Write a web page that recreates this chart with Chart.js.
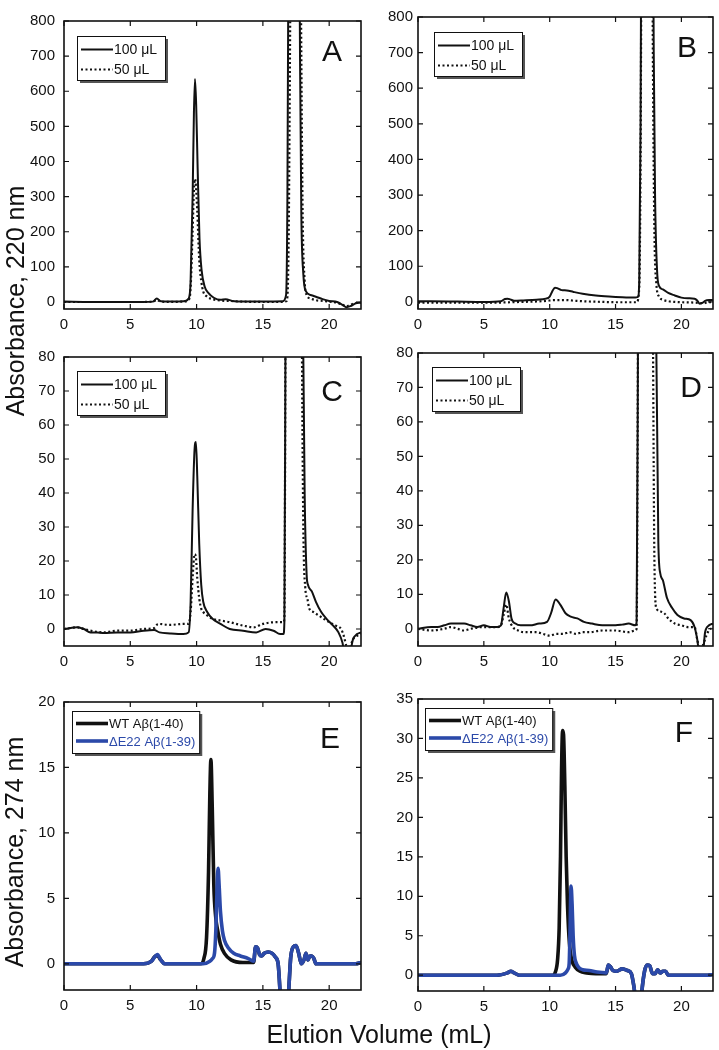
<!DOCTYPE html>
<html>
<head>
<meta charset="utf-8">
<script src="https://cdn.jsdelivr.net/npm/chart.js@4.4.1/dist/chart.umd.min.js"></script>
<style>
  body { margin: 0; background: #fff; }
  #wrap { position: relative; width: 719px; height: 1050px; overflow: hidden; font-family: "Liberation Sans", Arial, sans-serif; color: #111; }
  #wrap canvas { position: absolute; }
  .ttl { position: absolute; font-size: 25px; line-height: 30px; height: 30px; text-align: center; white-space: nowrap; }
  .rot { transform: rotate(-90deg); transform-origin: 50% 50%; }
</style>
</head>
<body>
<div id="wrap">
  <canvas id="cA"></canvas>
  <canvas id="cB"></canvas>
  <canvas id="cC"></canvas>
  <canvas id="cD"></canvas>
  <canvas id="cE"></canvas>
  <canvas id="cF"></canvas>
  <div class="ttl rot" style="left:-135px; top:286px; width:300px;">Absorbance, 220 nm</div>
  <div class="ttl rot" style="left:-136px; top:837px; width:300px;">Absorbance, 274 nm</div>
  <div class="ttl" style="left:229px; top:1019px; width:300px;">Elution Volume (mL)</div>
</div>
<script>
// ---- data (elution volume in mL, absorbance) ----
const xTicks = [0, 5, 10, 15, 20];
const yTicks800 = [0, 100, 200, 300, 400, 500, 600, 700, 800];
const yTicks80 = [0, 10, 20, 30, 40, 50, 60, 70, 80];
const yTicks20 = [0, 5, 10, 15, 20];
const yTicks35 = [0, 5, 10, 15, 20, 25, 30, 35];

// panel A
const a100X = [0, 2, 4, 6, 6.7, 7.0, 7.3, 8, 9, 9.4, 9.55, 9.7, 9.8, 9.88, 9.97, 10.08, 10.22, 10.38, 10.6, 10.9, 11.3, 11.8, 12.2, 12.7, 13.5, 15, 16.5, 16.75, 16.85, 16.95, 17.1, 17.5, 17.7, 17.8, 17.9, 18.05, 18.25, 18.6, 19.0, 19.5, 20.0, 20.6, 21.0, 21.3, 21.6, 22.0, 22.4];
const a100Y = [1, 0, 0, 0, 1, 10, 2, 1, 2, 10, 60, 300, 540, 635, 560, 380, 180, 90, 45, 25, 12, 6, 8, 3, 1, 1, 2, 20, 300, 1200, 2000, 2000, 1400, 700, 250, 80, 30, 20, 15, 8, 3, 0, -8, -15, -12, -4, -2];
const a50X = [0, 2, 4, 6, 6.7, 7.0, 7.3, 8, 9, 9.4, 9.55, 9.7, 9.8, 9.88, 9.95, 10.05, 10.2, 10.35, 10.5, 10.8, 11.2, 11.8, 12.5, 13.5, 15, 16.5, 16.75, 16.85, 16.95, 17.1, 17.5, 17.7, 17.8, 17.9, 18.0, 18.15, 18.3, 18.6, 19.0, 19.5, 20.0, 20.6, 21.0, 21.3, 21.6, 22.0, 22.4];
const a50Y = [0, 0, 0, 0, 1, 6, 1, 0, 1, 6, 40, 200, 320, 350, 330, 260, 120, 60, 30, 15, 8, 4, 3, 1, 0, 0, 2, 15, 200, 1000, 2000, 2000, 1300, 700, 250, 60, 20, 10, 5, 3, 1, -2, -8, -12, -8, -3, -2];

// panel B
const b100X = [0, 1, 3, 5, 6.3, 6.6, 6.8, 7.0, 7.3, 8, 9, 9.7, 10.0, 10.2, 10.4, 10.6, 10.9, 11.3, 11.8, 12.5, 13.5, 14.5, 15.5, 16.5, 16.7, 16.8, 16.9, 17.0, 17.2, 17.6, 17.8, 17.9, 18.0, 18.15, 18.3, 18.6, 19.0, 19.5, 20.0, 20.5, 21.0, 21.2, 21.4, 21.6, 21.8, 22.1, 22.4];
const b100Y = [2, 2, 1, 0, 2, 8, 9, 7, 3, 4, 6, 9, 15, 30, 40, 38, 33, 32, 28, 23, 18, 15, 13, 12, 14, 60, 500, 1500, 2000, 2000, 1400, 700, 300, 90, 45, 35, 25, 18, 12, 10, 9, 4, -5, -3, 3, 5, 5];
const b50X = [0, 2, 4, 6, 7, 8, 9, 9.8, 10.3, 10.7, 11.2, 12, 13, 14, 15, 16.6, 16.8, 16.9, 17.0, 17.2, 17.6, 17.75, 17.85, 17.95, 18.1, 18.3, 18.6, 19.0, 19.5, 20.0, 21.0, 21.4, 21.7, 22.0, 22.4];
const b50Y = [-2, -2, -2, -2, -1, 0, 1, 3, 5, 5, 5, 3, 1, 0, -1, -1, 40, 400, 1300, 2000, 2000, 1300, 600, 200, 50, 15, 6, 2, 0, -1, -2, -3, -4, -1, -1];

// panel C
const c100X = [0, 0.5, 1.0, 1.5, 2, 2.5, 3, 4, 5, 6, 6.8, 7.2, 8, 9, 9.4, 9.55, 9.7, 9.85, 9.95, 10.05, 10.2, 10.35, 10.5, 10.8, 11.2, 11.8, 12.5, 13.5, 14.5, 15.2, 15.8, 16.3, 16.55, 16.62, 16.7, 16.8, 17.3, 17.9, 18.05, 18.15, 18.3, 18.4, 18.7, 19.0, 19.4, 19.8, 20.3, 20.7, 21.0, 21.2, 21.5, 21.8, 22.1, 22.4];
const c100Y = [0, 0.3, 0.5, 0, -1, -1, -1.2, -1, -1, -0.5, -0.3, -1, -1.3, -1.5, -1, 8, 35, 53, 55, 45, 25, 13, 8, 5, 3, 1.5, 0, -0.5, -1, 0, -0.5, -1.5, -1.5, 2, 80, 200, 200, 200, 80, 40, 16, 13, 11, 8, 5, 3, 1, -1, -4, -8, -8, -3, -1.5, -1];
const c50X = [0, 0.5, 1.0, 1.5, 2, 3, 4, 5, 6, 6.8, 7.1, 8, 9, 9.4, 9.55, 9.7, 9.85, 9.95, 10.05, 10.2, 10.35, 10.5, 10.8, 11.2, 11.8, 12.5, 13.5, 14.3, 15, 16, 16.55, 16.62, 16.7, 16.8, 17.3, 17.8, 17.95, 18.05, 18.2, 18.35, 18.5, 18.8, 19.2, 19.6, 20.0, 20.5, 20.9, 21.1, 21.3, 21.5, 21.8, 22.1, 22.4];
const c50Y = [0, 0.3, 0.5, 0, -0.5, -1, -0.5, -0.5, 0, 0.3, 1.5, 1.2, 1.5, 1.5, 5, 15, 22, 21, 15, 9, 6, 5, 4, 3, 2.5, 2, 1, 0.5, 1.5, 2, 2, 3, 80, 200, 200, 200, 80, 30, 12, 9, 6, 5, 4, 3, 2, 1, 0, -2, -5, -6, -3, -2, -1.5];

// panel D
const d100X = [0, 1, 1.5, 2, 2.5, 3, 3.5, 4, 4.5, 5, 5.5, 6, 6.3, 6.5, 6.7, 6.9, 7.1, 7.4, 7.8, 8.5, 9.2, 9.8, 10.1, 10.45, 10.8, 11.2, 11.6, 12.1, 12.6, 13.2, 14, 14.5, 15, 15.5, 16, 16.5, 16.6, 16.7, 16.8, 17.3, 17.9, 18.1, 18.25, 18.4, 18.6, 18.9, 19.3, 19.7, 20.2, 20.7, 21.0, 21.2, 21.4, 21.6, 21.8, 22.1, 22.4];
const d100Y = [0, 0.5, 0.5, 1, 1.5, 1.5, 1.5, 1, 0.5, 1, 0.5, 0.5, 1, 6, 10.5, 8, 3, 1.5, 1, 1, 1.5, 2, 4.5, 8.5, 7, 4.5, 3.5, 3, 2, 1.5, 1, 1, 1, 1.2, 1.5, 1, 2, 80, 200, 200, 200, 80, 25, 16, 14, 9, 6, 4, 3, 2.5, 0.5, -3, -8, -8, -1, 1, 1.5];
const d50X = [0, 1, 2, 2.5, 3, 3.5, 4, 5, 6, 6.3, 6.5, 6.7, 6.9, 7.2, 7.6, 8, 8.5, 9, 9.5, 10, 10.5, 11, 11.5, 12, 12.5, 13, 14, 15, 16, 16.5, 16.6, 16.7, 16.8, 17.3, 17.7, 17.85, 17.95, 18.1, 18.4, 18.7, 19.0, 19.5, 20.0, 20.5, 21.0, 21.2, 21.4, 21.6, 21.9, 22.2, 22.4];
const d50Y = [0, -0.5, 0, 0.5, 0, -0.5, 0, 0.5, 0.5, 1, 4, 7, 3, 0.5, -0.5, -1, -1, -1, -1.5, -2, -1.5, -1.5, -1, -1.5, -1, -1, -0.5, -0.5, -1, -0.5, 0, 80, 200, 200, 200, 80, 20, 6, 5, 4.5, 3, 1.5, 1, 0.5, 0.5, -3, -6, -5, -2, 0, 0];

// panel E
const eWtX = [0, 3, 6, 6.6, 6.9, 7.05, 7.3, 7.6, 9, 10.3, 10.55, 10.75, 10.9, 11.0, 11.08, 11.18, 11.3, 11.45, 11.6, 11.8, 12.1, 12.6, 13.5, 14.3, 14.45, 14.6, 14.75, 14.9, 15.1, 15.4, 15.7, 15.95, 16.15, 16.35, 16.55, 16.75, 16.95, 17.1, 17.3, 17.5, 17.7, 17.9, 18.1, 18.25, 18.4, 18.55, 18.7, 18.85, 19.0, 20, 21, 22, 22.4];
const eWtY = [0, 0, 0, 0.2, 0.6, 0.6, 0.3, 0, 0, 0, 0.4, 2, 7, 13, 15.6, 12, 6, 3.5, 2.5, 1.5, 0.8, 0.3, 0.1, 0.1, 1.3, 1.2, 0.7, 0.6, 0.8, 0.9, 0.8, 0.5, 0, -3, -5, -5, -2, 0.5, 1.3, 1.4, 0.8, 0, 0.3, 0.8, 0.3, 0.6, 0.6, 0.4, 0, 0, 0, 0, 0.1];
const eDeX = [0, 3, 6, 6.6, 6.9, 7.05, 7.3, 7.6, 9, 10.5, 11.0, 11.2, 11.35, 11.45, 11.55, 11.62, 11.7, 11.8, 11.95, 12.1, 12.4, 12.8, 13.3, 13.9, 14.3, 14.45, 14.6, 14.75, 14.9, 15.1, 15.4, 15.7, 15.95, 16.15, 16.35, 16.55, 16.75, 16.95, 17.1, 17.3, 17.5, 17.7, 17.9, 18.1, 18.25, 18.4, 18.55, 18.7, 18.85, 19.0, 20, 21, 22, 22.4];
const eDeY = [0, 0, 0, 0.2, 0.6, 0.7, 0.3, 0, 0, 0, 0.2, 0.4, 0.8, 2.5, 6, 7.3, 6, 4, 2.5, 1.8, 1.2, 0.8, 0.6, 0.4, 0.2, 1.3, 1.2, 0.7, 0.6, 0.8, 0.9, 0.8, 0.5, 0, -3, -5, -5, -2, 0.5, 1.3, 1.4, 0.8, 0, 0.3, 0.8, 0.3, 0.6, 0.6, 0.4, 0, 0, 0, 0, 0.1];

// panel F
const fWtX = [0, 3, 6, 6.8, 7.05, 7.3, 7.7, 9, 10.2, 10.45, 10.6, 10.72, 10.82, 10.9, 10.98, 11.05, 11.15, 11.25, 11.35, 11.5, 11.7, 11.95, 12.3, 12.8, 13.5, 14.3, 14.45, 14.6, 14.8, 15.1, 15.5, 15.9, 16.2, 16.4, 16.6, 16.9, 17.0, 17.2, 17.4, 17.6, 17.8, 18.0, 18.2, 18.4, 18.6, 18.8, 19.0, 20, 21, 22, 22.4];
const fWtY = [0, 0, 0, 0.3, 0.5, 0.3, 0, 0, 0, 0.5, 2, 6, 15, 26, 31, 30.5, 24, 15, 9, 4, 1.8, 1, 0.5, 0.3, 0.2, 0.2, 1.3, 1.1, 0.6, 0.5, 0.8, 0.6, 0.2, -1.5, -4, -4, -2, 0.5, 1.3, 1.2, 0.2, 0.2, 0.7, 0.3, 0.5, 0.5, 0, 0, 0, 0, 0.1];
const fDeX = [0, 3, 6, 6.8, 7.05, 7.3, 7.7, 9, 10.8, 11.2, 11.4, 11.48, 11.55, 11.62, 11.7, 11.78, 11.88, 12.0, 12.2, 12.5, 13.0, 13.6, 14.3, 14.45, 14.6, 14.8, 15.1, 15.5, 15.9, 16.2, 16.4, 16.6, 16.9, 17.0, 17.2, 17.4, 17.6, 17.8, 18.0, 18.2, 18.4, 18.6, 18.8, 19.0, 20, 21, 22, 22.4];
const fDeY = [0, 0, 0, 0.3, 0.5, 0.3, 0, 0, 0, 0.3, 0.8, 1.5, 6, 11.3, 9, 5, 2.5, 1.6, 1, 0.7, 0.6, 0.4, 0.3, 1.3, 1.1, 0.6, 0.5, 0.8, 0.6, 0.2, -1.5, -4, -4, -2, 0.5, 1.3, 1.2, 0.2, 0.2, 0.7, 0.3, 0.5, 0.5, 0, 0, 0, 0, 0.1];

const seriesLabels = ['100 \u03bcL', '50 \u03bcL'];
const variantLabels = ['WT A\u03b2(1-40)', '\u0394E22 A\u03b2(1-39)'];

const FONT = '"Liberation Sans", Arial, sans-serif';
const BLUE = '#2b49a9';
const YW = 55, PT = 10, XH = 32, PR = 6;

function pts(xs, ys) {
  return xs.map((x, i) => ({ x: x, y: ys[i] }));
}

// frame with inward ticks on all sides, panel letter, boxed legend
const framePlugin = {
  id: 'frame',
  afterDatasetsDraw(chart, args, opts) {
    const ctx = chart.ctx;
    const a = chart.chartArea;
    const xs = chart.scales.x, ys = chart.scales.y;
    ctx.save();
    ctx.strokeStyle = '#111';
    ctx.lineWidth = 1.2;
    ctx.beginPath();
    xs.ticks.forEach(t => {
      const px = xs.getPixelForValue(t.value);
      ctx.moveTo(px, a.bottom); ctx.lineTo(px, a.bottom - 5);
      ctx.moveTo(px, a.top); ctx.lineTo(px, a.top + 5);
    });
    ys.ticks.forEach(t => {
      const py = ys.getPixelForValue(t.value);
      ctx.moveTo(a.left, py); ctx.lineTo(a.left + 5, py);
      ctx.moveTo(a.right, py); ctx.lineTo(a.right - 5, py);
    });
    ctx.stroke();
    ctx.lineWidth = 1.6;
    ctx.strokeRect(a.left, a.top, a.right - a.left, a.bottom - a.top);

    // letter
    ctx.fillStyle = '#111';
    ctx.font = '30px ' + FONT;
    ctx.textAlign = 'right';
    ctx.textBaseline = 'alphabetic';
    ctx.fillText(opts.letter, a.right - opts.letterDx, a.top + opts.letterDy);

    // legend
    const lg = opts.legend;
    ctx.font = lg.font + 'px ' + FONT;
    let tw = 0;
    chart.data.datasets.forEach(ds => { tw = Math.max(tw, ctx.measureText(ds.label).width); });
    const bw = Math.max(lg.w, 37 + tw + 4);
    const bx = a.left + lg.dx, by = a.top + lg.dy;
    ctx.fillStyle = '#555';
    ctx.fillRect(bx + 3, by + 3, bw, lg.h);
    ctx.fillStyle = '#fff';
    ctx.fillRect(bx, by, bw, lg.h);
    ctx.lineWidth = 1;
    ctx.strokeStyle = '#111';
    ctx.strokeRect(bx + 0.5, by + 0.5, bw, lg.h);
    ctx.textAlign = 'left';
    ctx.textBaseline = 'middle';
    chart.data.datasets.forEach((ds, i) => {
      const ry = by + lg.first + i * lg.gap;
      ctx.beginPath();
      ctx.strokeStyle = ds.borderColor;
      ctx.lineWidth = ds.borderWidth;
      ctx.setLineDash(ds.borderDash || []);
      ctx.moveTo(bx + 4, ry);
      ctx.lineTo(bx + 36, ry);
      ctx.stroke();
      ctx.setLineDash([]);
      ctx.fillStyle = lg.colored ? ds.borderColor : '#111';
      ctx.fillText(ds.label, bx + 37, ry + 1);
    });
    ctx.restore();
  }
};

function makePanel(id, area, yMin, yMax, yTicks, datasets, yPad, frameOpts) {
  const cv = document.getElementById(id);
  const w = (area.r - area.l) + YW + PR;
  const h = (area.b - area.t) + PT + XH;
  cv.width = w; cv.height = h;
  cv.style.left = (area.l - YW) + 'px';
  cv.style.top = (area.t - PT) + 'px';
  cv.style.width = w + 'px';
  cv.style.height = h + 'px';
  new Chart(cv.getContext('2d'), {
    type: 'line',
    data: { datasets: datasets },
    options: {
      responsive: false,
      animation: false,
      devicePixelRatio: 1,
      layout: { padding: { left: 0, top: PT, right: PR, bottom: 0 } },
      elements: { point: { radius: 0 } },
      plugins: {
        legend: { display: false },
        tooltip: { enabled: false },
        frame: frameOpts
      },
      scales: {
        x: {
          type: 'linear', min: 0, max: 22.4,
          grid: { display: false, drawTicks: false },
          border: { display: false },
          afterBuildTicks: s => { s.ticks = xTicks.map(v => ({ value: v })); },
          afterFit: s => { s.height = XH; },
          ticks: { font: { family: FONT, size: 15 }, color: '#111', padding: 7, maxRotation: 0 }
        },
        y: {
          type: 'linear', min: yMin, max: yMax,
          grid: { display: false, drawTicks: false },
          border: { display: false },
          afterBuildTicks: s => { s.ticks = yTicks.map(v => ({ value: v })); },
          afterFit: s => { s.width = YW; },
          ticks: { font: { family: FONT, size: 15 }, color: '#111', padding: yPad }
        }
      }
    },
    plugins: [framePlugin]
  });
}

function pairSets(x1, y1, x2, y2) {
  return [
    { label: seriesLabels[0], data: pts(x1, y1), borderColor: '#111', borderWidth: 2, cubicInterpolationMode: 'monotone', order: 0 },
    { label: seriesLabels[1], data: pts(x2, y2), borderColor: '#111', borderWidth: 2.2, borderDash: [2, 2.5], cubicInterpolationMode: 'monotone', order: 1 }
  ];
}
function variantSets(x1, y1, x2, y2) {
  return [
    { label: variantLabels[0], data: pts(x1, y1), borderColor: '#111', borderWidth: 3.6, cubicInterpolationMode: 'monotone', order: 1 },
    { label: variantLabels[1], data: pts(x2, y2), borderColor: BLUE, borderWidth: 3.6, cubicInterpolationMode: 'monotone', order: 0 }
  ];
}

const legSmall = { w: 88, h: 44, first: 13.5, gap: 20, font: 14, colored: false };
const legWide = { w: 120, h: 42, first: 12.5, gap: 17.5, font: 13, colored: true };

makePanel('cA', { l: 64, t: 13, r: 361, b: 309 }, -20, 800, yTicks800, pairSets(a100X, a100Y, a50X, a50Y), 9,
  { letter: 'A', letterDx: 19, letterDy: 40, legend: Object.assign({ dx: 13, dy: 15 }, legSmall) });
makePanel('cB', { l: 418, t: 13, r: 713, b: 309 }, -20, 800, yTicks800, pairSets(b100X, b100Y, b50X, b50Y), 5,
  { letter: 'B', letterDx: 16, letterDy: 40, legend: Object.assign({ dx: 16, dy: 15 }, legSmall) });
makePanel('cC', { l: 64, t: 349, r: 361, b: 646 }, -5, 80, yTicks80, pairSets(c100X, c100Y, c50X, c50Y), 9,
  { letter: 'C', letterDx: 18, letterDy: 44, legend: Object.assign({ dx: 13, dy: 14 }, legSmall) });
makePanel('cD', { l: 418, t: 349, r: 713, b: 646 }, -5, 80, yTicks80, pairSets(d100X, d100Y, d50X, d50Y), 5,
  { letter: 'D', letterDx: 11, letterDy: 44, legend: Object.assign({ dx: 14, dy: 14 }, legSmall) });
makePanel('cE', { l: 64, t: 694, r: 361, b: 990 }, -2, 20, yTicks20, variantSets(eWtX, eWtY, eDeX, eDeY), 9,
  { letter: 'E', letterDx: 21, letterDy: 46, legend: Object.assign({ dx: 8, dy: 9 }, legWide) });
makePanel('cF', { l: 418, t: 695, r: 713, b: 991 }, -2, 35, yTicks35, variantSets(fWtX, fWtY, fDeX, fDeY), 5,
  { letter: 'F', letterDx: 20, letterDy: 43, legend: Object.assign({ dx: 7, dy: 9 }, legWide) });
</script>
</body>
</html>
